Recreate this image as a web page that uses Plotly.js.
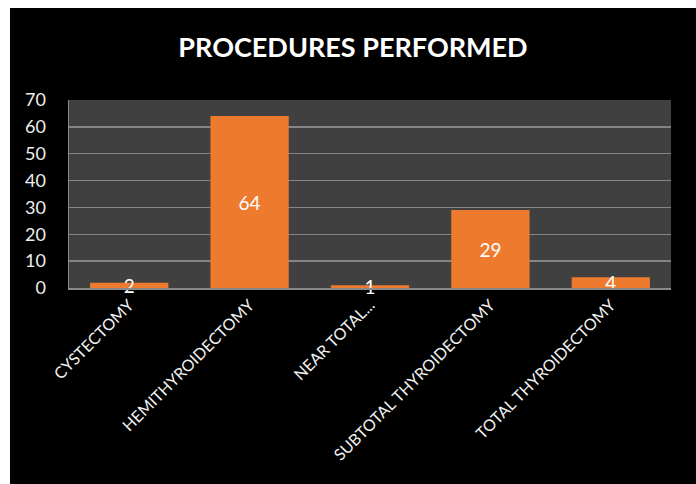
<!DOCTYPE html>
<html>
<head>
<meta charset="utf-8">
<script src="https://cdn.plot.ly/plotly-3.0.1.min.js"></script>
<style>
  html, body { margin: 0; padding: 0; background: #ffffff; width: 696px; height: 484px; overflow: hidden; }
  #chart { position: absolute; left: 10px; top: 8px; width: 686px; height: 476px; }
</style>
</head>
<body>
<div id="chart"></div>
<script>
const categories = ["CYSTECTOMY", "HEMITHYROIDECTOMY", "NEAR TOTAL...", "SUBTOTAL THYROIDECTOMY", "TOTAL THYROIDECTOMY"];
const counts = [2, 64, 1, 29, 4];
const yTicks = [0, 10, 20, 30, 40, 50, 60, 70];
const chartTitle = "PROCEDURES PERFORMED";

const trace = {
  type: "bar",
  x: categories,
  y: counts,
  text: counts.map(String),
  textposition: "inside",
  insidetextanchor: "middle",
  constraintext: "none",
  textangle: 0,
  textfont: { family: "Lato, 'Open Sans', sans-serif", size: 19, color: "#ffffff" },
  marker: { color: "#EE7A2E", line: { width: 0 } },
  hoverinfo: "none",
  cliponaxis: false
};

const layout = {
  width: 686,
  height: 476,
  paper_bgcolor: "#000000",
  plot_bgcolor: "#404040",
  margin: { l: 59, r: 25, t: 92, b: 196 },
  bargap: 0.35,
  showlegend: false,
  title: {
    text: "<b>" + chartTitle + "</b>",
    font: { family: "Lato, 'Open Sans', sans-serif", size: 27, color: "#ffffff" },
    x: 0.5, xanchor: "center",
    y: 0.917, yanchor: "middle", yref: "container"
  },
  xaxis: {
    type: "category",
    tickangle: -45,
    tickfont: { family: "Lato, 'Open Sans', sans-serif", size: 16, color: "#f2f2f2" },
    showline: true, linecolor: "#8a8a8a", linewidth: 1.5,
    ticks: "", showgrid: false, fixedrange: true
  },
  yaxis: {
    range: [0, 70],
    tickvals: yTicks,
    ticktext: yTicks.map(String),
    tickfont: { family: "Lato, 'Open Sans', sans-serif", size: 18, color: "#eeeeee" },
    showgrid: true, gridcolor: "#858585", gridwidth: 1.5,
    showline: true, linecolor: "#8a8a8a", linewidth: 1.5,
    zeroline: false, ticks: "", ticklabelstandoff: 18, fixedrange: true
  }
};

Plotly.newPlot("chart", [trace], layout, { staticPlot: true, displayModeBar: false });
</script>
</body>
</html>
